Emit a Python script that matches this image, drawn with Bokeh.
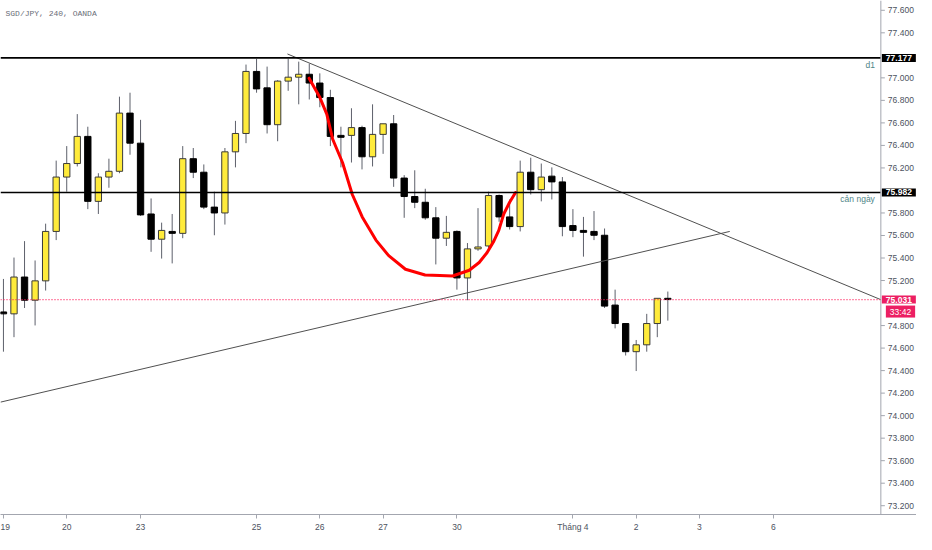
from bokeh.plotting import figure
from bokeh.models import ColumnDataSource, Span, Label, FixedTicker, Range1d
from bokeh.core.properties import value
from bokeh.embed import file_html
from bokeh.resources import INLINE

# ---------------- data ----------------
title_text = "SGD/JPY, 240, OANDA"

opens = [74.921, 74.904, 75.231, 75.025, 75.197, 75.636, 76.119, 76.239, 76.480, 75.903,
         76.119, 76.170, 76.687, 76.420, 75.791, 75.567, 75.636, 75.619, 76.282, 76.162,
         75.852, 75.800, 76.343, 76.506, 77.057, 76.911, 76.584, 76.971, 77.006, 77.032,
         76.954, 76.825, 76.489, 76.489, 76.558, 76.299, 76.498, 76.592, 76.110, 75.946,
         75.895, 75.757, 75.576, 75.636, 75.223, 75.481, 75.507, 75.955, 75.765, 75.679,
         76.162, 76.007, 76.127, 76.076, 75.688, 75.645, 75.636, 75.602, 74.982, 74.818,
         74.568, 74.629, 74.818, 75.042]
highs = [75.214, 75.404, 75.550, 75.378, 75.705, 76.265, 76.394, 76.678, 76.566, 76.153,
         76.282, 76.833, 76.868, 76.627, 75.929, 75.714, 75.791, 76.394, 76.377, 76.231,
         75.989, 76.377, 76.618, 77.118, 77.169, 77.100, 76.980, 77.169, 77.144, 77.126,
         77.040, 76.894, 76.566, 76.730, 76.575, 76.765, 76.592, 76.670, 76.136, 76.179,
         76.015, 75.852, 75.774, 75.645, 75.533, 75.843, 75.989, 75.964, 75.920, 76.265,
         76.291, 76.239, 76.205, 76.119, 75.834, 75.765, 75.817, 75.662, 75.119, 74.818,
         74.672, 74.904, 75.042, 75.102]
lows = [74.568, 74.697, 74.956, 74.801, 75.111, 75.559, 75.989, 76.213, 75.834, 75.791,
        76.024, 76.153, 76.317, 75.774, 75.455, 75.395, 75.352, 75.576, 76.110, 75.834,
        75.602, 75.697, 76.205, 76.420, 76.868, 76.506, 76.437, 76.885, 76.765, 76.808,
        76.739, 76.394, 76.205, 76.248, 76.187, 76.213, 76.325, 76.032, 75.757, 75.843,
        75.740, 75.343, 75.507, 75.119, 75.025, 75.464, 75.464, 75.722, 75.653, 75.636,
        75.964, 75.903, 75.920, 75.593, 75.585, 75.412, 75.559, 74.956, 74.775, 74.534,
        74.396, 74.568, 74.697, 74.844]
closes = [74.904, 75.231, 75.025, 75.197, 75.636, 76.119, 76.239, 76.480, 75.903, 76.119,
          76.170, 76.687, 76.420, 75.783, 75.567, 75.645, 75.619, 76.282, 76.162, 75.852,
          75.800, 76.343, 76.506, 77.057, 76.902, 76.584, 76.971, 77.006, 77.032, 76.954,
          76.825, 76.480, 76.472, 76.558, 76.299, 76.498, 76.592, 76.110, 75.946, 75.895,
          75.757, 75.576, 75.628, 75.223, 75.481, 75.498, 75.955, 75.765, 75.679, 76.162,
          76.007, 76.119, 76.076, 75.679, 75.645, 75.628, 75.602, 74.973, 74.818, 74.568,
          74.629, 74.818, 75.042, 75.031]

day_ticks = [0, 6, 13, 24, 30, 36, 43, 54, 60, 66, 73]
day_labels = ["19", "20", "23", "25", "26", "27", "30", "Tháng 4", "2", "3", "6"]

price_ticks = [73.2, 73.4, 73.6, 73.8, 74.0, 74.2, 74.4, 74.6, 74.8, 75.2, 75.4,
               75.6, 75.8, 76.2, 76.4, 76.6, 76.8, 77.0, 77.4, 77.6]

level_d1 = 77.177
level_d1_name = "d1"
level_day = 75.982
level_day_name = "cản ngày"
last_price = 75.031
countdown = "33:42"

down_trend_x = [26.93, 83.2]
down_trend_y = [77.212, 75.030]
up_trend_x = [-0.28, 68.87]
up_trend_y = [74.120, 75.636]

arc_x = [28.98, 30.01, 30.66, 31.22, 32.15, 33.08, 34.02, 35.32, 36.53, 38.12, 39.98,
         41.38, 42.59, 44.17, 45.11, 45.85, 46.50, 46.97, 47.44, 48.00, 48.56]
arc_y = [76.997, 76.825, 76.678, 76.455, 76.248, 75.964, 75.765, 75.559, 75.421, 75.300,
         75.249, 75.244, 75.240, 75.291, 75.360, 75.447, 75.550, 75.645, 75.791, 75.895,
         75.981]

X_START, X_END, X_TOTAL = -0.28, 83.2, 86.58   # chart area ends at X_END, price scale after it
Y_START, Y_END = 73.122, 77.687

FONT = "Liberation Sans"
AXIS_COLOR = "#a3a6af"
LABEL_COLOR = "#4c525e"
PINK = "#ec1f63"
BOX_PAD = dict(left=4, right=4, top=1, bottom=1)

# ---------------- figure ----------------
p = figure(width=916, height=534, output_backend="svg", toolbar_location=None,
           x_range=Range1d(X_START, X_TOTAL), y_range=Range1d(Y_START, Y_END),
           y_axis_location=None)
p.min_border_left = 0
p.min_border_top = 0
p.min_border_right = 0
p.min_border_bottom = 0
p.outline_line_color = None
p.xgrid.visible = False
p.ygrid.visible = False
p.background_fill_color = "white"
p.border_fill_color = "white"

idx = list(range(len(opens)))
bull = [c >= o for o, c in zip(opens, closes)]
src = ColumnDataSource(dict(
    x=idx, high=highs, low=lows,
    top=[max(o, c) for o, c in zip(opens, closes)],
    bottom=[min(o, c) for o, c in zip(opens, closes)],
    fill=["#ffeb3b" if b else "#000000" for b in bull],
    edge=["#3a3a3a" if b else "#000000" for b in bull],
))

p.segment(x0="x", y0="low", x1="x", y1="high", source=src, line_color="#5d606b", line_width=1)
p.vbar(x="x", width=0.6, top="top", bottom="bottom", source=src,
       fill_color="fill", line_color="edge", line_width=1)

# drawings
p.line(down_trend_x, down_trend_y, line_color="#505050", line_width=1)
p.line(up_trend_x, up_trend_y, line_color="#505050", line_width=1)
p.line(arc_x, arc_y, line_color="#ff0000", line_width=3, line_join="round", line_cap="round")

for lvl in (level_d1, level_day):
    p.line([X_START, X_END], [lvl, lvl], line_color="#000000", line_width=1.6)
p.line([X_START, X_END], [last_price, last_price], line_color="#ff1f5a", line_width=1.2,
       line_dash="1 2")

for lvl, name in [(level_d1, level_d1_name), (level_day, level_day_name)]:
    p.add_layout(Label(x=X_END, y=lvl, x_offset=-6, y_offset=-2, text=name,
                       text_align="right", text_baseline="top", text_font=FONT,
                       text_font_size="8.5px", text_color="#4f8587"))

# ---------------- price scale (right) ----------------
p.add_layout(Span(location=X_END, dimension="height", line_color=AXIS_COLOR, line_width=1))
tick_src = ColumnDataSource(dict(y=price_ticks, label=["%.3f" % t for t in price_ticks]))
p.ray(x=X_END, y="y", length=4, length_units="screen", angle=0, source=tick_src,
      line_color=AXIS_COLOR, line_width=1)
p.text(x=X_END, y="y", text="label", x_offset=7, source=tick_src,
       text_font=value(FONT), text_font_size="8.5px", text_color=LABEL_COLOR,
       text_align="left", text_baseline="middle")

for lvl, bg in [(level_d1, "#000000"), (level_day, "#000000"), (last_price, PINK)]:
    p.add_layout(Label(x=X_END, y=lvl, x_offset=1, text="%.3f" % lvl,
                       text_align="left", text_baseline="middle", text_font=FONT,
                       text_font_size="8.5px", text_font_style="bold", text_color="white",
                       background_fill_color=bg, padding=BOX_PAD, level="overlay"))
p.add_layout(Label(x=X_END, y=last_price, x_offset=5, y_offset=-12, text=countdown,
                   text_align="left", text_baseline="middle", text_font=FONT,
                   text_font_size="8.5px", text_color="white",
                   background_fill_color=PINK, padding=BOX_PAD, level="overlay"))

# title
p.add_layout(Label(x=X_START, y=Y_END, x_offset=5, y_offset=-8, text=title_text,
                   text_align="left", text_baseline="top", text_font="Liberation Mono",
                   text_font_size="8px", text_color="#6a6d78"))

# ---------------- time axis ----------------
p.xaxis.ticker = FixedTicker(ticks=day_ticks)
p.xaxis.major_label_overrides = {t: l for t, l in zip(day_ticks, day_labels)}
p.xaxis.axis_line_color = AXIS_COLOR
p.xaxis.major_tick_line_color = AXIS_COLOR
p.xaxis.major_tick_out = 4
p.xaxis.major_tick_in = 0
p.xaxis.minor_tick_line_color = None
p.xaxis.major_label_text_font = FONT
p.xaxis.major_label_text_font_size = "8.5px"
p.xaxis.major_label_text_color = LABEL_COLOR
p.xaxis.major_label_standoff = 3

open("out.html", "w").write(file_html(p, INLINE))
